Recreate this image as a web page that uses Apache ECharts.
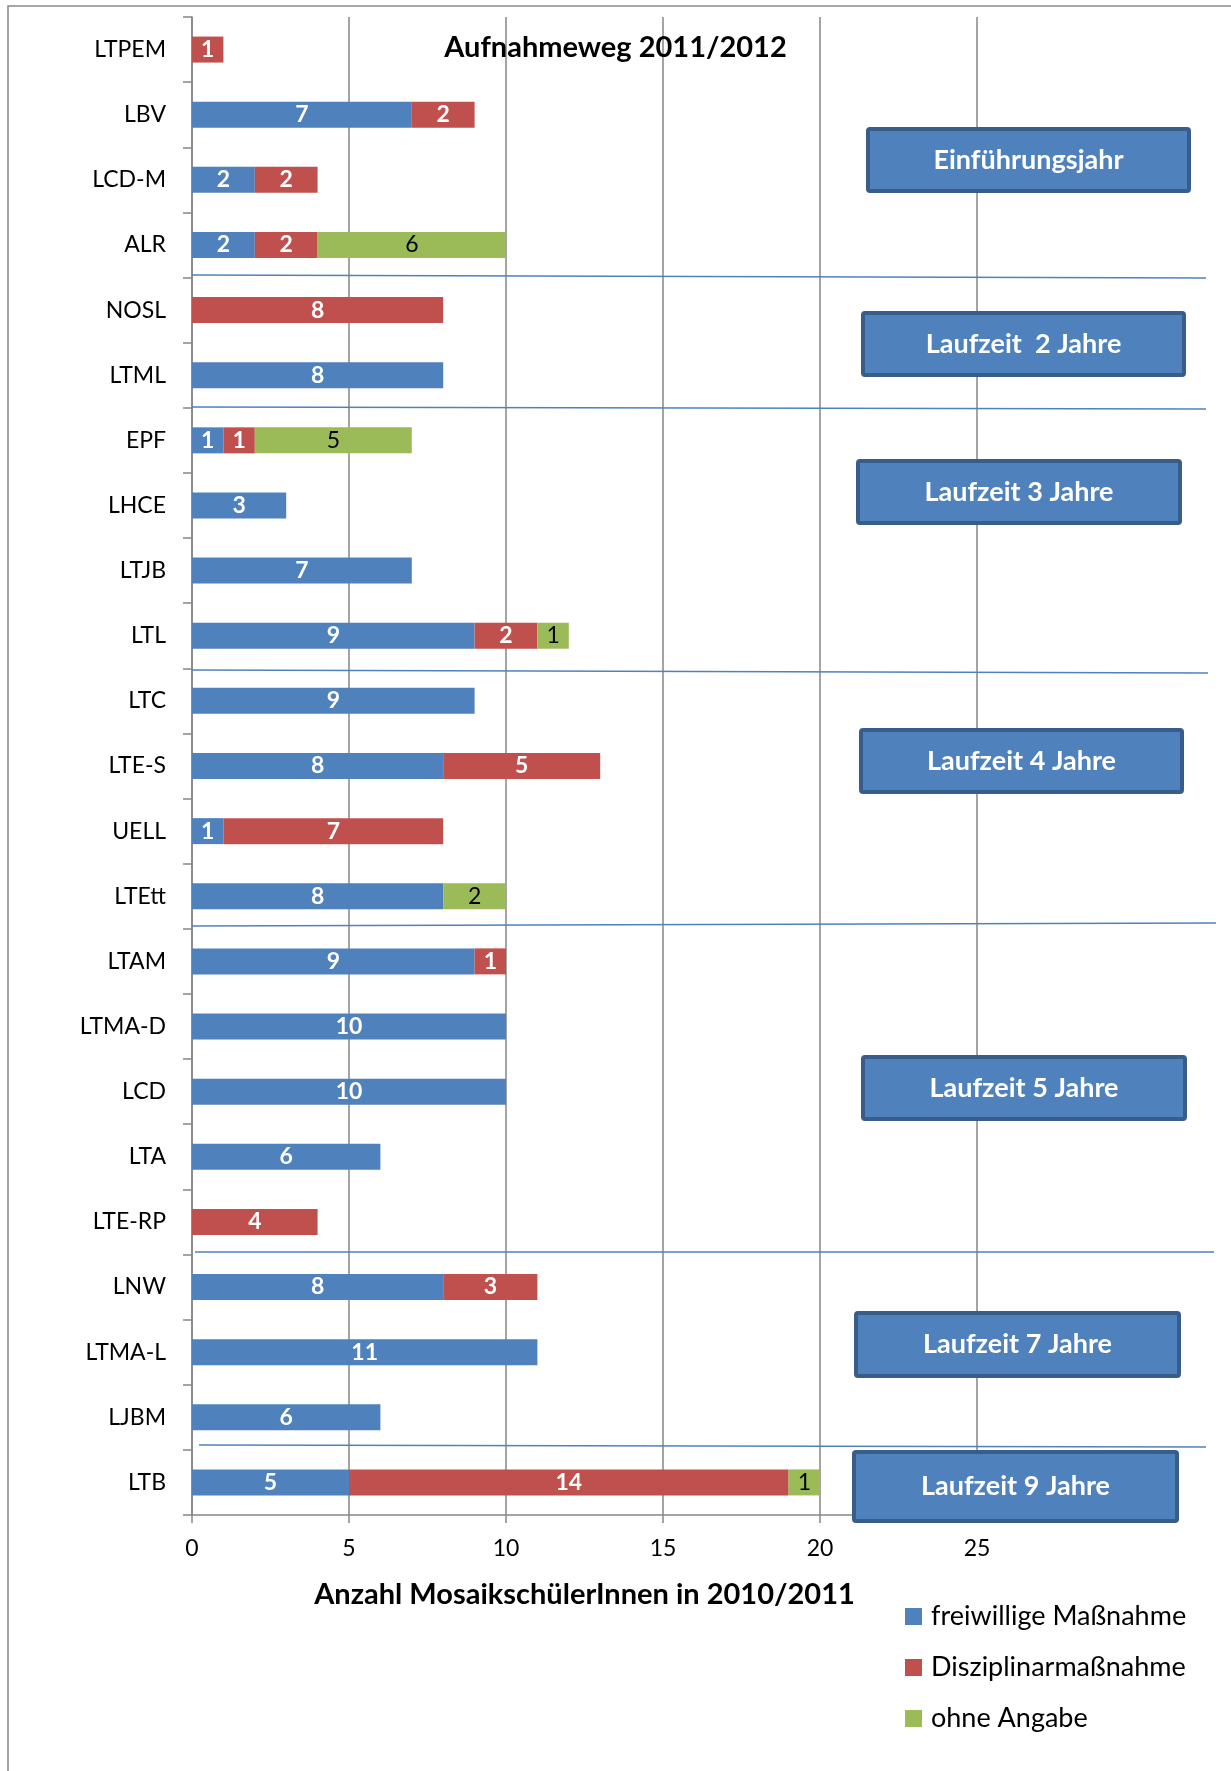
<!DOCTYPE html>
<html>
<head>
<meta charset="utf-8">
<script src="https://cdn.jsdelivr.net/npm/echarts@6/dist/echarts.min.js"></script>
<style>
  html, body { margin: 0; padding: 0; background: #fff; }
  #chart { width: 1231px; height: 1771px; }
</style>
</head>
<body>
<div id="chart"></div>
<script>
// Schulen von oben nach unten
var schools = ['LTPEM', 'LBV', 'LCD-M', 'ALR', 'NOSL', 'LTML', 'EPF', 'LHCE', 'LTJB', 'LTL', 'LTC', 'LTE-S',
  'UELL', 'LTEtt', 'LTAM', 'LTMA-D', 'LCD', 'LTA', 'LTE-RP', 'LNW', 'LTMA-L', 'LJBM', 'LTB']
var freiwillig = [0, 7, 2, 2, 0, 8, 1, 3, 7, 9, 9, 8, 1, 8, 9, 10, 10, 6, 0, 8, 11, 6, 5]
var disziplinar = [1, 2, 2, 2, 8, 0, 1, 0, 0, 2, 0, 5, 7, 0, 1, 0, 0, 0, 4, 3, 0, 0, 14]
var ohneAngabe = [0, 0, 0, 6, 0, 0, 5, 0, 0, 1, 0, 0, 0, 2, 0, 0, 0, 0, 0, 0, 0, 0, 1]
var xTicks = [0, 5, 10, 15, 20, 25]
var seriesNames = ['freiwillige Maßnahme', 'Disziplinarmaßnahme', 'ohne Angabe']
var groupLabels = ['Einführungsjahr', 'Laufzeit  2 Jahre', 'Laufzeit 3 Jahre', 'Laufzeit 4 Jahre',
  'Laufzeit 5 Jahre', 'Laufzeit 7 Jahre', 'Laufzeit 9 Jahre']

// Layout der Kästen und Trennlinien (Pixel)
var boxes = [[868, 129, 321, 62], [863, 313, 321, 62], [858, 461, 322, 62], [861, 730, 321, 62],
  [863, 1057, 322, 62], [856, 1313, 323, 63], [854, 1452, 323, 69]]
var separators = [[192, 275, 1206, 278], [192, 407, 1206, 409], [192, 670, 1208, 673],
  [192, 926, 1216, 923], [195, 1252, 1214, 1252], [199, 1445, 1206, 1447]]

var FONT = 'Lato'
var BLUE = '#4F81BD', RED = '#C0504D', GREEN = '#9BBB59'

function hideZero(p) {
  return p.value ? String(p.value) : ''
}

function barSeries(name, data, color, labelColor, bold) {
  return {
    name: name,
    type: 'bar',
    stack: 'total',
    barWidth: 26,
    data: data,
    itemStyle: { color: color },
    label: {
      show: true,
      position: 'inside',
      formatter: hideZero,
      color: labelColor,
      fontFamily: FONT,
      fontWeight: bold ? 'bold' : 'normal',
      fontSize: 23
    }
  }
}

var graphics = [{
  type: 'rect',
  shape: { x: 8, y: 6, width: 1240, height: 1780 },
  style: { fill: null, stroke: '#888', lineWidth: 1.5 },
  silent: true
}]
separators.forEach(function (s) {
  graphics.push({
    type: 'line',
    shape: { x1: s[0], y1: s[1], x2: s[2], y2: s[3] },
    style: { stroke: BLUE, lineWidth: 1.5 },
    z: 10
  })
})
boxes.forEach(function (b, i) {
  graphics.push({
    type: 'rect',
    shape: { x: b[0], y: b[1], width: b[2], height: b[3], r: 2 },
    style: { fill: BLUE, stroke: '#385D8A', lineWidth: 4 },
    z: 20
  })
  graphics.push({
    type: 'text',
    x: b[0] + b[2] / 2,
    y: b[1] + b[3] / 2,
    style: {
      text: groupLabels[i], fill: '#fff', fontFamily: FONT, fontWeight: 'bold', fontSize: 27,
      textAlign: 'center', textVerticalAlign: 'middle'
    },
    z: 21
  })
})

var chart = echarts.init(document.getElementById('chart'))
chart.setOption({
  animation: false,
  backgroundColor: '#fff',
  title: {
    text: 'Aufnahmeweg 2011/2012',
    left: 'center',
    top: 28,
    textStyle: { fontFamily: FONT, fontWeight: 'bold', fontSize: 29, color: '#000' }
  },
  legend: {
    orient: 'vertical',
    left: 900,
    top: 1598,
    itemWidth: 17,
    itemHeight: 17,
    itemGap: 24,
    icon: 'rect',
    data: seriesNames,
    textStyle: { fontFamily: FONT, fontSize: 27, color: '#000', padding: [0, 0, 0, 4] }
  },
  grid: { left: 192, right: 254, top: 17, bottom: 256 },
  xAxis: {
    type: 'value',
    min: xTicks[0],
    max: xTicks[xTicks.length - 1],
    interval: 5,
    name: 'Anzahl MosaikschülerInnen in 2010/2011',
    nameLocation: 'middle',
    nameGap: 65,
    nameTextStyle: { fontFamily: FONT, fontWeight: 'bold', fontSize: 29, color: '#000' },
    axisLine: { show: true, lineStyle: { color: '#868686', width: 1.5 } },
    axisTick: { show: true, length: 8, lineStyle: { color: '#868686', width: 1.5 } },
    axisLabel: { margin: 22, fontFamily: FONT, fontSize: 23, color: '#000' },
    splitLine: { show: true, lineStyle: { color: '#868686', width: 1.5 } }
  },
  yAxis: {
    type: 'category',
    inverse: true,
    data: schools,
    axisLine: { show: true, lineStyle: { color: '#868686', width: 1.5 } },
    axisTick: { show: true, length: 9, lineStyle: { color: '#868686', width: 1.5 } },
    axisLabel: { margin: 26, fontFamily: FONT, fontSize: 23, color: '#000' }
  },
  series: [
    barSeries(seriesNames[0], freiwillig, BLUE, '#fff', true),
    barSeries(seriesNames[1], disziplinar, RED, '#fff', true),
    barSeries(seriesNames[2], ohneAngabe, GREEN, '#000', false)
  ],
  graphic: graphics
})
</script>
</body>
</html>
